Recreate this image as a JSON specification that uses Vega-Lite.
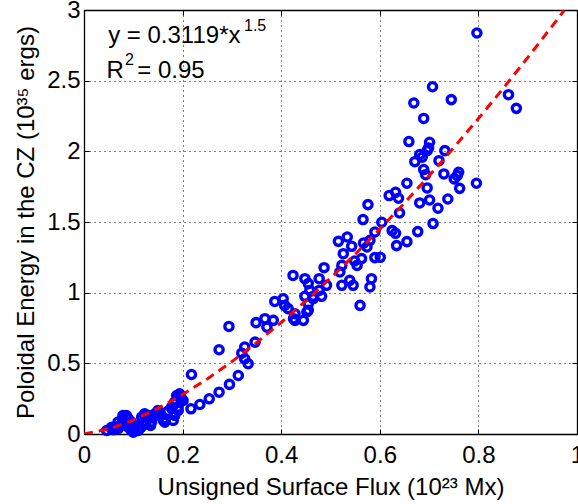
{
  "$schema": "https://vega.github.io/schema/vega-lite/v6.json",
  "width": 493,
  "height": 424,
  "autosize": {"type": "none"},
  "padding": {"left": 84, "top": 10, "right": 1, "bottom": 70},
  "background": "white",
  "config": {
    "view": {"stroke": null},
    "font": "Liberation Sans",
    "axis": {
      "labelFont": "Liberation Sans",
      "labelFontSize": 24,
      "labelColor": "#000000",
      "titleFont": "Liberation Sans",
      "titleFontSize": 24,
      "titleFontWeight": "normal",
      "titleColor": "#000000",
      "domainColor": "#000000",
      "domainWidth": 1.3,
      "tickColor": "#000000",
      "tickWidth": 1,
      "tickSize": -5,
      "labelFlush": false,
      "labelOverlap": false
    }
  },
  "datasets": {
    "points": [
      {"flux": 0.797, "energy": 2.837}, {"flux": 0.707, "energy": 2.457}, {"flux": 0.669, "energy": 2.342},
      {"flux": 0.745, "energy": 2.366}, {"flux": 0.689, "energy": 2.233}, {"flux": 0.861, "energy": 2.401},
      {"flux": 0.877, "energy": 2.304}, {"flux": 0.659, "energy": 2.069}, {"flux": 0.701, "energy": 2.064},
      {"flux": 0.699, "energy": 2.024}, {"flux": 0.696, "energy": 2.005}, {"flux": 0.732, "energy": 2.005},
      {"flux": 0.681, "energy": 1.977}, {"flux": 0.686, "energy": 1.958}, {"flux": 0.671, "energy": 1.927},
      {"flux": 0.720, "energy": 1.934}, {"flux": 0.689, "energy": 1.871}, {"flux": 0.693, "energy": 1.835},
      {"flux": 0.730, "energy": 1.840}, {"flux": 0.760, "energy": 1.852}, {"flux": 0.757, "energy": 1.828},
      {"flux": 0.751, "energy": 1.805}, {"flux": 0.655, "energy": 1.774}, {"flux": 0.796, "energy": 1.774},
      {"flux": 0.696, "energy": 1.741}, {"flux": 0.762, "energy": 1.738}, {"flux": 0.619, "energy": 1.687},
      {"flux": 0.632, "energy": 1.710}, {"flux": 0.638, "energy": 1.668}, {"flux": 0.681, "energy": 1.635},
      {"flux": 0.701, "energy": 1.656}, {"flux": 0.718, "energy": 1.597}, {"flux": 0.738, "energy": 1.663},
      {"flux": 0.640, "energy": 1.564}, {"flux": 0.604, "energy": 1.498}, {"flux": 0.708, "energy": 1.489},
      {"flux": 0.677, "energy": 1.432}, {"flux": 0.625, "energy": 1.439}, {"flux": 0.632, "energy": 1.420},
      {"flux": 0.655, "energy": 1.361}, {"flux": 0.634, "energy": 1.333}, {"flux": 0.601, "energy": 1.250},
      {"flux": 0.576, "energy": 1.623}, {"flux": 0.566, "energy": 1.517}, {"flux": 0.590, "energy": 1.429},
      {"flux": 0.580, "energy": 1.370}, {"flux": 0.574, "energy": 1.323}, {"flux": 0.567, "energy": 1.351},
      {"flux": 0.516, "energy": 1.363}, {"flux": 0.534, "energy": 1.394}, {"flux": 0.543, "energy": 1.328},
      {"flux": 0.590, "energy": 1.248}, {"flux": 0.563, "energy": 1.241}, {"flux": 0.526, "energy": 1.276},
      {"flux": 0.549, "energy": 1.224}, {"flux": 0.554, "energy": 1.193}, {"flux": 0.523, "energy": 1.193},
      {"flux": 0.487, "energy": 1.177}, {"flux": 0.519, "energy": 1.146}, {"flux": 0.424, "energy": 1.122},
      {"flux": 0.448, "energy": 1.099}, {"flux": 0.455, "energy": 1.064}, {"flux": 0.477, "energy": 1.099},
      {"flux": 0.492, "energy": 1.052}, {"flux": 0.523, "energy": 1.052}, {"flux": 0.539, "energy": 1.087},
      {"flux": 0.546, "energy": 1.052}, {"flux": 0.583, "energy": 1.099}, {"flux": 0.580, "energy": 1.040},
      {"flux": 0.458, "energy": 1.016}, {"flux": 0.448, "energy": 0.974}, {"flux": 0.465, "energy": 0.974},
      {"flux": 0.482, "energy": 0.974}, {"flux": 0.560, "energy": 0.910}, {"flux": 0.384, "energy": 0.804},
      {"flux": 0.387, "energy": 0.938}, {"flux": 0.404, "energy": 0.957}, {"flux": 0.407, "energy": 0.910},
      {"flux": 0.414, "energy": 0.887}, {"flux": 0.428, "energy": 0.804}, {"flux": 0.445, "energy": 0.804},
      {"flux": 0.455, "energy": 0.922}, {"flux": 0.465, "energy": 0.957}, {"flux": 0.477, "energy": 1.016},
      {"flux": 0.452, "energy": 0.863}, {"flux": 0.425, "energy": 0.816}, {"flux": 0.428, "energy": 0.851},
      {"flux": 0.455, "energy": 0.875}, {"flux": 0.349, "energy": 0.788}, {"flux": 0.367, "energy": 0.816},
      {"flux": 0.371, "energy": 0.756}, {"flux": 0.294, "energy": 0.761}, {"flux": 0.274, "energy": 0.596},
      {"flux": 0.347, "energy": 0.650}, {"flux": 0.326, "energy": 0.615}, {"flux": 0.320, "energy": 0.572},
      {"flux": 0.326, "energy": 0.532}, {"flux": 0.333, "energy": 0.497}, {"flux": 0.218, "energy": 0.421},
      {"flux": 0.313, "energy": 0.414}, {"flux": 0.295, "energy": 0.351}, {"flux": 0.274, "energy": 0.296},
      {"flux": 0.254, "energy": 0.249}, {"flux": 0.235, "energy": 0.209}, {"flux": 0.217, "energy": 0.178},
      {"flux": 0.195, "energy": 0.261}, {"flux": 0.184, "energy": 0.214}, {"flux": 0.191, "energy": 0.190},
      {"flux": 0.201, "energy": 0.237}, {"flux": 0.198, "energy": 0.250}, {"flux": 0.188, "energy": 0.272},
      {"flux": 0.194, "energy": 0.284}, {"flux": 0.178, "energy": 0.190}, {"flux": 0.184, "energy": 0.225},
      {"flux": 0.191, "energy": 0.166}, {"flux": 0.184, "energy": 0.131}, {"flux": 0.181, "energy": 0.096},
      {"flux": 0.164, "energy": 0.108}, {"flux": 0.154, "energy": 0.131}, {"flux": 0.147, "energy": 0.143},
      {"flux": 0.130, "energy": 0.131}, {"flux": 0.123, "energy": 0.131}, {"flux": 0.086, "energy": 0.131},
      {"flux": 0.079, "energy": 0.108}, {"flux": 0.069, "energy": 0.084}, {"flux": 0.056, "energy": 0.048},
      {"flux": 0.046, "energy": 0.025}, {"flux": 0.056, "energy": 0.037}, {"flux": 0.066, "energy": 0.048},
      {"flux": 0.076, "energy": 0.072}, {"flux": 0.079, "energy": 0.131}, {"flux": 0.090, "energy": 0.108},
      {"flux": 0.096, "energy": 0.084}, {"flux": 0.103, "energy": 0.037}, {"flux": 0.110, "energy": 0.025},
      {"flux": 0.100, "energy": 0.013}, {"flux": 0.090, "energy": 0.048}, {"flux": 0.117, "energy": 0.119},
      {"flux": 0.123, "energy": 0.143}, {"flux": 0.130, "energy": 0.108}, {"flux": 0.137, "energy": 0.084},
      {"flux": 0.144, "energy": 0.143}, {"flux": 0.150, "energy": 0.166}, {"flux": 0.157, "energy": 0.131},
      {"flux": 0.161, "energy": 0.096}, {"flux": 0.164, "energy": 0.084}, {"flux": 0.060, "energy": 0.030},
      {"flux": 0.070, "energy": 0.040}, {"flux": 0.085, "energy": 0.060}, {"flux": 0.095, "energy": 0.030},
      {"flux": 0.105, "energy": 0.060}, {"flux": 0.115, "energy": 0.045}, {"flux": 0.125, "energy": 0.070},
      {"flux": 0.135, "energy": 0.060}, {"flux": 0.170, "energy": 0.160}, {"flux": 0.178, "energy": 0.180}
    ],
    "fit": [
      {"flux": 0.0, "energy": 0.0}, {"flux": 0.05, "energy": 0.0349}, {"flux": 0.1, "energy": 0.0986},
      {"flux": 0.15, "energy": 0.1812}, {"flux": 0.2, "energy": 0.279}, {"flux": 0.25, "energy": 0.3899},
      {"flux": 0.3, "energy": 0.5125}, {"flux": 0.35, "energy": 0.6458}, {"flux": 0.4, "energy": 0.789},
      {"flux": 0.45, "energy": 0.9415}, {"flux": 0.5, "energy": 1.1027}, {"flux": 0.55, "energy": 1.2722},
      {"flux": 0.6, "energy": 1.4496}, {"flux": 0.65, "energy": 1.6345}, {"flux": 0.7, "energy": 1.8267},
      {"flux": 0.75, "energy": 2.0259}, {"flux": 0.8, "energy": 2.2318}, {"flux": 0.85, "energy": 2.4442},
      {"flux": 0.9, "energy": 2.6631}, {"flux": 0.95, "energy": 2.888}, {"flux": 0.974, "energy": 2.998}
    ],
    "notes": [
      {"flux": 0.049, "energy": 2.763, "label": "y = 0.3119*x"},
      {"flux": 0.0455, "energy": 2.517, "label": "R"},
      {"flux": 0.1081, "energy": 2.517, "label": "= 0.95"}
    ],
    "sups": [
      {"flux": 0.3245, "energy": 2.851, "label": "1.5"},
      {"flux": 0.0832, "energy": 2.611, "label": "2"}
    ]
  },
  "layer": [
    {
      "data": {"name": "points"},
      "mark": {"type": "point", "shape": "circle", "filled": false, "color": "#0000ff", "strokeWidth": 3.3, "size": 68, "opacity": 1},
      "encoding": {
        "x": {
          "field": "flux", "type": "quantitative",
          "scale": {"domain": [0, 1], "nice": false, "zero": false},
          "axis": {
            "orient": "bottom",
            "title": "Unsigned Surface Flux (10²³ Mx)",
            "values": [0, 0.2, 0.4, 0.6, 0.8, 1],
            "format": "~g",
            "labelPadding": 14,
            "grid": true, "gridColor": "#000000", "gridDash": [1, 4], "gridWidth": 1, "gridOpacity": 1,
            "titleBaseline": "alphabetic", "titleX": 246.5, "titleY": 60.3
          }
        },
        "y": {
          "field": "energy", "type": "quantitative",
          "scale": {"domain": [0, 3], "nice": false, "zero": false},
          "axis": {
            "orient": "left",
            "title": "Poloidal Energy in the CZ (10³⁵ ergs)",
            "values": [0, 0.5, 1, 1.5, 2, 2.5, 3],
            "format": "~g",
            "labelPadding": 9,
            "grid": true, "gridColor": "#000000", "gridDash": [1, 4], "gridWidth": 1, "gridOpacity": 1,
            "titleBaseline": "alphabetic", "titleAngle": 270, "titleX": -50.7, "titleY": 212
          }
        }
      }
    },
    {
      "data": {"name": "fit"},
      "mark": {"type": "line", "color": "#ff0000", "strokeWidth": 3, "strokeDash": [9, 6], "clip": true},
      "encoding": {
        "x": {
          "field": "flux", "type": "quantitative",
          "axis": {"orient": "top", "title": null, "labels": false, "grid": false, "values": [0, 0.2, 0.4, 0.6, 0.8, 1]}
        },
        "y": {
          "field": "energy", "type": "quantitative",
          "axis": {"orient": "right", "title": null, "labels": false, "grid": false, "values": [0, 0.5, 1, 1.5, 2, 2.5, 3]}
        }
      }
    },
    {
      "data": {"name": "notes"},
      "mark": {"type": "text", "font": "Liberation Sans", "fontSize": 24, "align": "left", "baseline": "alphabetic", "color": "#000000"},
      "encoding": {
        "x": {"field": "flux", "type": "quantitative", "axis": null},
        "y": {"field": "energy", "type": "quantitative", "axis": null},
        "text": {"field": "label"}
      }
    },
    {
      "data": {"name": "sups"},
      "mark": {"type": "text", "font": "Liberation Sans", "fontSize": 16, "align": "left", "baseline": "alphabetic", "color": "#000000"},
      "encoding": {
        "x": {"field": "flux", "type": "quantitative", "axis": null},
        "y": {"field": "energy", "type": "quantitative", "axis": null},
        "text": {"field": "label"}
      }
    }
  ],
  "resolve": {"axis": {"x": "independent", "y": "independent"}}
}
